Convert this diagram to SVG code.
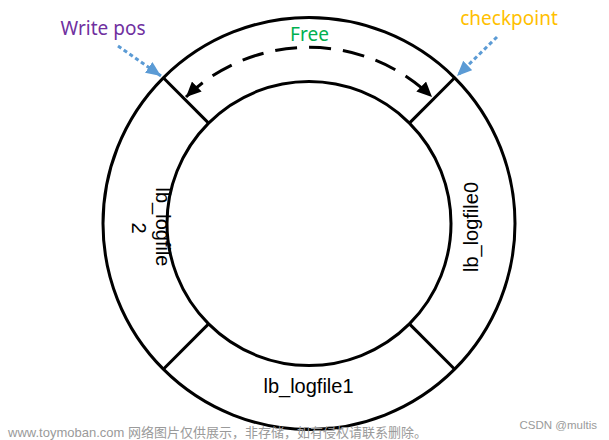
<svg xmlns="http://www.w3.org/2000/svg" width="609" height="440" viewBox="0 0 609 440">
<style>
.ring{fill:none;stroke:#000;stroke-width:3}
.sep{stroke:#000;stroke-width:3;stroke-linecap:butt}
.lbl{font-family:"Liberation Sans",Arial,sans-serif;font-size:20px;fill:#000}
.cap{font-family:"Noto Sans","Open Sans",sans-serif;font-size:19px}
.ptr{fill:none;stroke:#5B9BD5;stroke-width:3;stroke-dasharray:4 3}
.wm{font-family:"Liberation Sans","Noto Sans CJK SC",sans-serif;fill:#9a9a9a}
</style>
<defs>
<marker id="blk" markerUnits="userSpaceOnUse" markerWidth="16" markerHeight="14" refX="15" refY="7" orient="auto-start-reverse">
<path d="M0,0 L15,7 L0,14 z" fill="#000"/>
</marker>
<marker id="blu" markerUnits="userSpaceOnUse" markerWidth="16" markerHeight="14" refX="15" refY="6.5" orient="auto">
<path d="M0,0 L15,6.5 L0,13 z" fill="#5B9BD5"/>
</marker>
</defs>
<rect width="609" height="440" fill="#fff"/>
<g id="ring">
<circle class="ring" cx="309" cy="223.5" r="206"/>
<circle class="ring" cx="309" cy="223.5" r="142"/>
</g>
<g id="seg-free">
<line class="sep" x1="163.3" y1="77.8" x2="208.6" y2="123.1"/>
<line class="sep" x1="454.7" y1="77.8" x2="409.4" y2="123.1"/>
<text class="cap" x="309.5" y="41" text-anchor="middle" fill="#00B050">Free</text>
</g>
<g id="seg-logfile1">
<line class="sep" x1="163.3" y1="369.2" x2="208.6" y2="323.9"/>
<line class="sep" x1="454.7" y1="369.2" x2="409.4" y2="323.9"/>
<text class="lbl" x="308.5" y="393" text-anchor="middle">lb_logfile1</text>
</g>
<g id="seg-logfile0">
<text class="lbl" transform="translate(478,227) rotate(-90)" text-anchor="middle">lb_logfile0</text>
</g>
<g id="seg-logfile2">
<text class="lbl" transform="translate(156,227) rotate(90)" text-anchor="middle">lb_logfile</text>
<text class="lbl" transform="translate(132,228) rotate(90)" text-anchor="middle">2</text>
</g>
<g id="write-pos">
<text class="cap" x="103" y="35" text-anchor="middle" fill="#7030A0">Write pos</text>
</g>
<g id="checkpoint">
<text class="cap" x="509" y="25" text-anchor="middle" fill="#FFC000">checkpoint</text>
</g>
<g id="connectors">
<path d="M 186 97 A 177 177 0 0 1 432 97" fill="none" stroke="#000" stroke-width="3" stroke-dasharray="22 12" marker-start="url(#blk)" marker-end="url(#blk)"/>
<line class="ptr" x1="118" y1="46" x2="161" y2="76" marker-end="url(#blu)"/>
<line class="ptr" x1="497" y1="37" x2="457" y2="76" marker-end="url(#blu)"/>
</g>
<text class="wm" x="8" y="437" font-size="13">www.toymoban.com 网络图片仅供展示，非存储，如有侵权请联系删除。</text>
<text class="wm" x="597" y="429" font-size="11.5" text-anchor="end">CSDN @multis</text>
</svg>
